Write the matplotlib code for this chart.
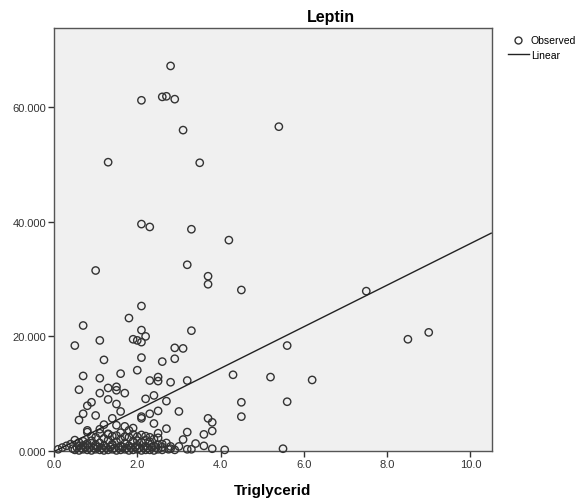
import matplotlib
matplotlib.use('Agg')
import matplotlib.pyplot as plt
from matplotlib.lines import Line2D

plt.rcParams['font.family'] = ['Liberation Sans', 'DejaVu Sans']

trig_high = [2.8, 2.1, 2.6, 2.7, 2.9, 3.1, 5.4, 1.3, 3.5, 2.1, 2.3, 3.3, 4.2,
             1.0, 3.2, 3.7, 3.7, 4.5, 7.5, 2.1, 1.8, 0.7, 2.1, 3.3, 9.0, 2.2,
             1.9, 2.0, 2.1, 1.1, 8.5, 0.5, 5.6, 2.9, 3.1, 2.1, 2.9, 1.2, 2.6,
             2.0, 1.6, 0.7, 4.3, 5.2, 1.1, 2.5, 2.3, 2.5, 2.8, 3.2, 6.2, 0.6,
             1.3, 1.5, 1.5, 1.7, 1.1, 2.2, 2.4, 1.3, 2.7, 0.9, 4.5, 5.6, 1.5,
             0.8, 1.6, 3.0, 2.5, 0.7, 1.0, 2.3, 2.1, 2.1, 4.5, 0.6, 1.4, 3.7,
             3.8, 2.4, 1.2, 1.1, 0.8, 0.8, 2.7, 1.7, 1.9, 1.8, 1.5, 3.2, 3.8,
             3.6, 2.5, 2.2, 1.3, 3.1, 3.4, 3.6, 3.8, 4.1, 3.3, 5.5, 3.0, 2.8]
leptin_high = [67.2, 61.2, 61.8, 61.9, 61.4, 56.0, 56.6, 50.4, 50.3, 39.6, 39.1, 38.7, 36.8,
               31.5, 32.5, 30.5, 29.1, 28.1, 27.9, 25.3, 23.2, 21.9, 21.1, 21.0, 20.7, 20.0,
               19.5, 19.3, 19.0, 19.3, 19.5, 18.4, 18.4, 18.0, 17.9, 16.3, 16.1, 15.9, 15.6,
               14.1, 13.5, 13.1, 13.3, 12.9, 12.7, 12.9, 12.3, 12.2, 12.0, 12.3, 12.4, 10.7,
               11.0, 11.2, 10.6, 10.1, 10.1, 9.1, 9.7, 9.0, 8.7, 8.5, 8.5, 8.6, 8.2,
               7.9, 6.9, 6.9, 7.0, 6.5, 6.2, 6.5, 6.0, 5.7, 6.0, 5.4, 5.7, 5.7,
               5.0, 4.8, 4.6, 3.8, 3.6, 3.3, 3.9, 4.3, 4.0, 3.6, 4.5, 3.3, 3.5,
               2.9, 3.1, 2.6, 3.0, 2.0, 1.3, 0.9, 0.4, 0.2, 0.3, 0.4, 0.8, 0.8]

# dense cluster near the x axis
trig_low = [1.2, 1.4, 1.0, 1.6, 1.8, 2.0, 2.3, 2.6, 2.4, 0.5, 0.6, 0.3, 0.4, 0.2, 0.1,
            0.9, 1.1, 1.3, 1.5, 1.7, 1.9, 2.1, 2.2, 2.5, 2.7, 0.7, 0.8, 1.0, 1.2, 1.4,
            0.5, 0.6, 0.7, 0.8, 0.9, 1.0, 1.1, 1.2, 1.3, 1.4, 1.5, 1.6, 1.7, 1.8, 1.9,
            2.0, 2.1, 2.2, 2.3, 2.4, 2.5, 2.6, 0.55, 0.65, 0.75, 0.85, 0.95, 1.05, 1.15,
            1.25, 1.35, 1.45, 1.55, 1.65, 1.75, 1.85, 1.95, 2.05, 2.15, 2.25, 2.35, 2.45,
            0.6, 0.8, 1.0, 1.2, 1.4, 1.6, 1.8, 2.0, 2.2, 2.4, 2.6, 2.8, 0.9, 1.3, 1.7,
            2.1, 2.5, 1.1, 1.5, 1.9, 2.3, 0.7, 1.6, 2.0, 0.45, 2.75, 2.9, 3.2]
leptin_low = [2.2, 2.6, 2.4, 2.0, 2.4, 1.8, 1.6, 1.2, 2.1, 1.9, 1.5, 0.9, 1.2, 0.6, 0.3,
              1.8, 1.4, 1.9, 1.6, 1.3, 1.7, 1.5, 1.9, 1.1, 1.4, 1.0, 1.3, 1.1, 0.9, 1.2,
              0.2, 0.1, 0.3, 0.2, 0.1, 0.3, 0.2, 0.1, 0.2, 0.3, 0.1, 0.2, 0.3, 0.1, 0.2,
              0.3, 0.1, 0.2, 0.2, 0.1, 0.3, 0.2, 0.6, 0.5, 0.7, 0.6, 0.5, 0.7, 0.5,
              0.6, 0.7, 0.5, 0.6, 0.7, 0.5, 0.6, 0.7, 0.5, 0.6, 0.5, 0.7, 0.6,
              0.9, 1.0, 0.8, 0.9, 1.0, 0.8, 0.9, 1.0, 0.8, 0.9, 0.7, 0.4, 2.6, 2.9, 2.5,
              2.8, 2.3, 3.1, 2.7, 2.9, 2.4, 1.7, 3.2, 2.5, 0.4, 0.3, 0.2, 0.3]

# linear fit coefficients (intercept, slope)
b0, b1 = -0.1, 3.63
x_fit = [0.0, 10.5]

fig = plt.figure(figsize=(5.77, 5.02), dpi=100)
ax = fig.add_axes([0.0936, 0.0996, 0.7591, 0.8424])
ax.set_facecolor('#f0f0f0')

ax.scatter(trig_high + trig_low, leptin_high + leptin_low, s=28,
           facecolors='none', edgecolors='#333333', linewidths=1.0,
           zorder=3, clip_on=False)
ax.plot(x_fit, [b0 + b1 * v for v in x_fit], color='#222222', lw=1.0, zorder=4)

ax.set_xlim(0, 10.52)
ax.set_ylim(0, 73.8)
ax.set_xticks([0, 2, 4, 6, 8, 10])
ax.set_xticklabels(['%.1f' % v for v in [0, 2, 4, 6, 8, 10]])
ax.set_yticks([0, 20, 40, 60])
ax.set_yticklabels(['%.3f' % v for v in [0, 20, 40, 60]])
ax.tick_params(direction='out', length=4, width=1, colors='#333333',
               labelsize=8, pad=1.5)
for s in ax.spines.values():
    s.set_color('#555555')
    s.set_linewidth(1.0)

ax.set_xlabel('Triglycerid', fontsize=11, fontweight='bold', labelpad=10)
fig.text(0.574, 0.965, 'Leptin', fontsize=11.5, fontweight='bold',
         ha='center', va='center')

handles = [Line2D([], [], marker='o', ls='none', mfc='none', mec='#333333',
                  ms=5, label='Observed'),
           Line2D([], [], color='#222222', lw=1.0, label='Linear')]
ax.legend(handles=handles, loc='upper left', bbox_to_anchor=(1.02, 1.0),
          frameon=False, fontsize=7.5, handlelength=2.0, handletextpad=0.2,
          labelspacing=0.45, borderaxespad=0.3)

fig.savefig('out.png', dpi=100)
